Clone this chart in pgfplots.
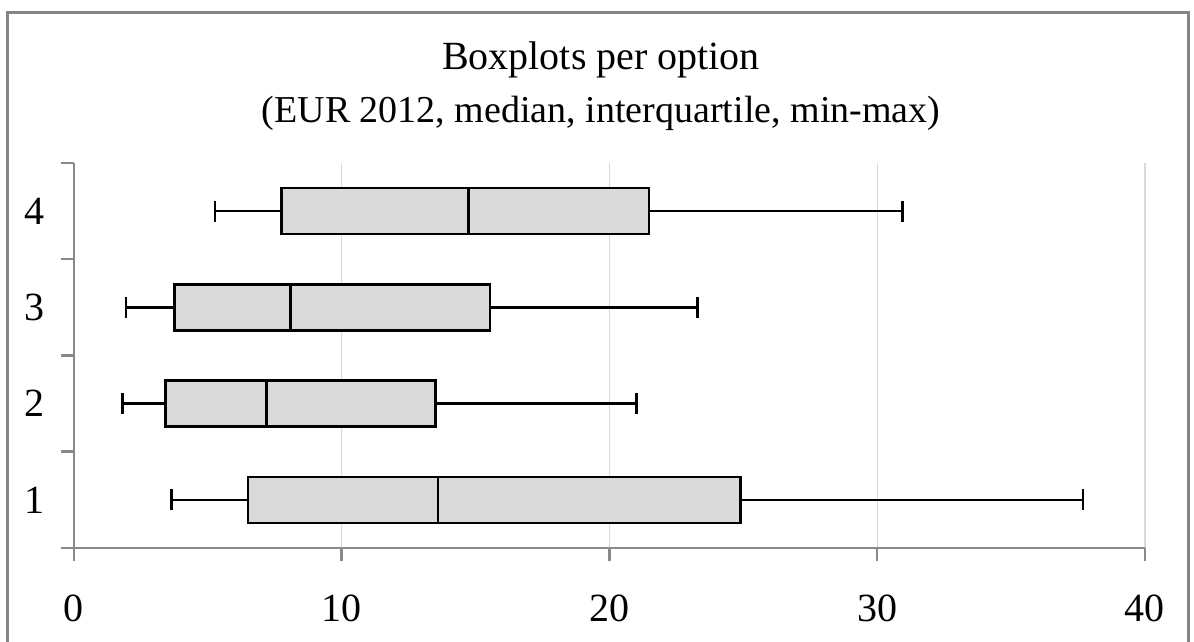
\documentclass[border=0pt]{standalone}
\usepackage{fontspec}
\setmainfont{Liberation Serif}
\usepackage{pgfplots}
\pgfplotsset{compat=1.18}
\usepgfplotslibrary{statistics}
\definecolor{boxgray}{HTML}{D9D9D9}
\definecolor{axgray}{HTML}{898989}
\definecolor{gridgray}{HTML}{D9D9D9}
\definecolor{framegray}{HTML}{858585}
\begin{document}
\begin{tikzpicture}[x=1pt,y=1pt]
\path[use as bounding box] (0,0) rectangle (1194,642);
\draw[framegray, line width=3pt] (7,-20) -- (7,629) -- (1188,629) -- (1188,-20);
\node[font=\fontsize{40}{48}\selectfont, anchor=base] at (601,572) {Boxplots per option};
\node[font=\fontsize{38}{46}\selectfont, anchor=base] at (601,519) {(EUR 2012, median, interquartile, min-max)};
\begin{axis}[
  at={(74pt,94pt)}, anchor=south west,
  scale only axis, width=1071pt, height=385pt,
  xmin=0, xmax=40, ymin=0.5, ymax=4.5,
  axis x line*=bottom, axis y line*=left,
  x axis line style={axgray, line width=2.5pt, -},
  y axis line style={axgray, line width=2.5pt, -},
  xtick={10,20,30,40},
  extra x ticks={0}, extra x tick style={grid=none},
  ytick={0.5,1.5,2.5,3.5,4.5}, yticklabels={},
  extra y ticks={1,2,3,4}, extra y tick labels={1,2,3,4},
  extra y tick style={major tick length=0pt, yticklabel style={xshift=-26pt}},
  tick align=outside,
  major tick length=13pt,
  tick style={axgray, line width=2.5pt},
  xmajorgrids, grid style={gridgray, line width=1.2pt},
  /pgf/number format/assume math mode=true,
  tick label style={font=\fontsize{40}{48}\selectfont},
  xticklabel style={yshift=-30pt},
  clip=false,
]
\addplot[boxplot prepared={lower whisker=3.65, lower quartile=6.5, median=13.6, upper quartile=24.9, upper whisker=37.69, draw position=1, box extend=0.48, whisker extend=0.22}, fill=boxgray, draw=black, line width=2.5pt] coordinates {};
\addplot[boxplot prepared={lower whisker=1.81, lower quartile=3.41, median=7.19, upper quartile=13.5, upper whisker=21.0, draw position=2, box extend=0.48, whisker extend=0.22}, fill=boxgray, draw=black, line width=2.5pt] coordinates {};
\addplot[boxplot prepared={lower whisker=1.94, lower quartile=3.75, median=8.09, upper quartile=15.54, upper whisker=23.29, draw position=3, box extend=0.48, whisker extend=0.22}, fill=boxgray, draw=black, line width=2.5pt] coordinates {};
\addplot[boxplot prepared={lower whisker=5.26, lower quartile=7.75, median=14.73, upper quartile=21.48, upper whisker=30.95, draw position=4, box extend=0.48, whisker extend=0.22}, fill=boxgray, draw=black, line width=2.5pt] coordinates {};
\end{axis}
\end{tikzpicture}
\end{document}
